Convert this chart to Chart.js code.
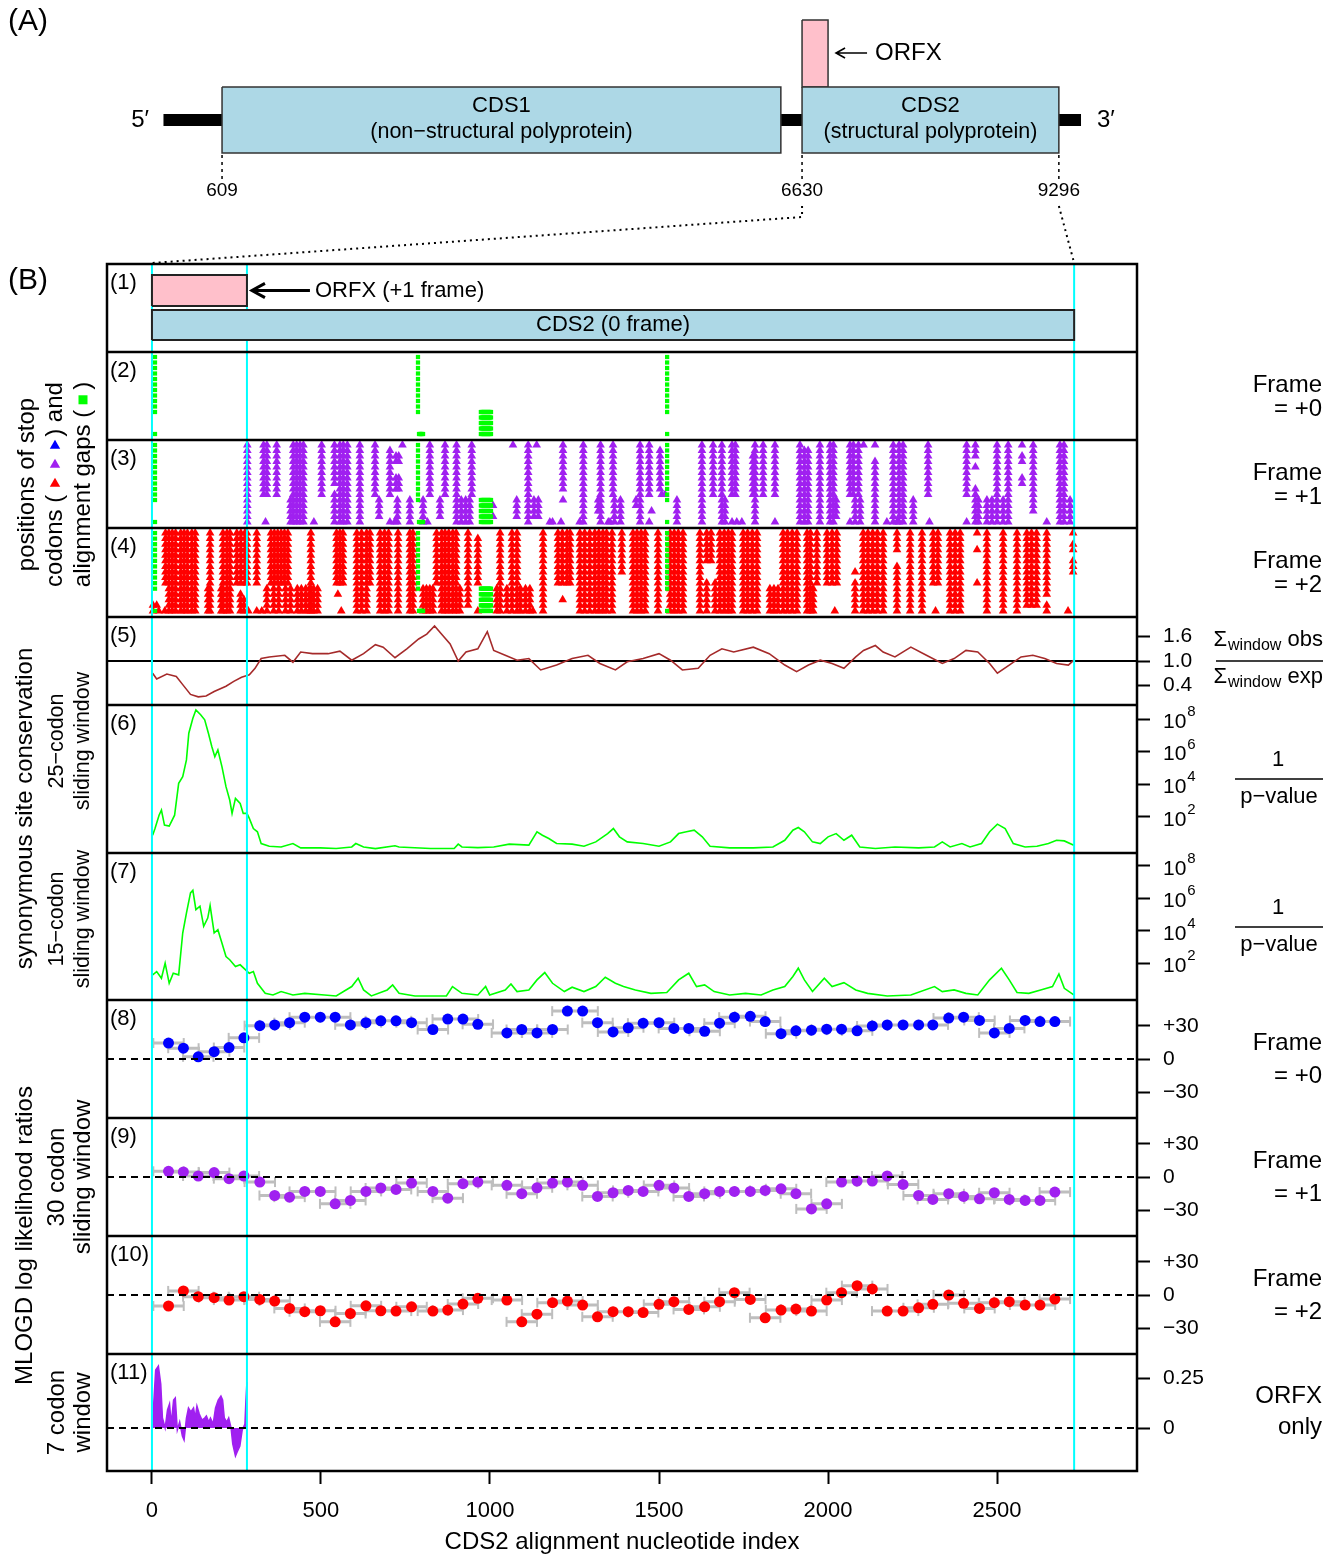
<!DOCTYPE html>
<html>
<head>
<meta charset="utf-8">
<title>ORFX in CDS2: stop codons, synonymous site conservation and MLOGD</title>
<script src="https://cdn.jsdelivr.net/npm/chart.js@4.4.1/dist/chart.umd.min.js"></script>
<style>
  html, body { margin: 0; padding: 0; background: #fff; }
  #figure { position: relative; width: 1336px; height: 1557px; }
  #figure canvas { position: absolute; left: 0; top: 0; }
</style>
</head>
<body>
<div id="figure">
  <canvas id="panelB" width="1336" height="1557"></canvas>
  <canvas id="panelA" width="1336" height="264"></canvas>
</div>
<script>
/* ==========================================================================
   DATA  (A) genome map, nucleotide coordinates
   ========================================================================== */
const GENOME_SPAN = [1, 9526];
const GENE_NAMES = ['CDS1', 'CDS2', 'ORFX'];
const GENE_NOTES = ['(non\u2212structural polyprotein)', '(structural polyprotein)', ''];
const GENE_STARTS = [609, 6630, 6630];
const GENE_ENDS = [6410, 9296, 6900];
const GENOME_TICKS = [609, 6630, 9296];

/* ==========================================================================
   DATA  (B) CDS2 alignment coordinates
   ========================================================================== */
const X_TICKS = [0, 500, 1000, 1500, 2000, 2500];
const ORFX_RANGE = [0, 281];
const CDS2_RANGE = [0, 2728];

// alignment gaps: [from nt, to nt, first sequence row, last sequence row]
const GAP_SEGMENTS = [
  [9, 9, 1, 11], [9, 9, 15, 15], [787, 787, 1, 11], [790, 802, 15, 15],
  [973, 1003, 11, 15], [1524, 1524, 1, 11], [1524, 1524, 15, 15]
];

// stop codons: [nt, first sequence row, last sequence row]
const FRAME1_STOPS = [
  [282,1,15],[330,1,10],[340,1,10],[336,15,15],[369,1,10],
  [410,11,15],[418,1,15],[428,1,15],[438,1,15],[448,1,15],[479,15,15],[502,1,10],
  [540,1,8],[540,10,15],[556,1,15],[566,1,15],[578,1,15],[615,1,15],[660,1,10],[672,11,14],
  [704,2,10],[704,15,15],[722,3,4],[730,3,4],[722,7,9],[730,7,9],[741,1,1],[726,11,15],[718,15,15],
  [763,11,15],[802,11,15],[815,15,15],[822,1,10],[852,11,14],[867,1,10],[901,1,15],
  [915,11,15],[928,11,15],[940,11,15],[946,1,10],[1009,12,12],[1009,14,14],
  [1068,1,1],[1079,11,14],[1113,1,15],[1138,1,1],[1130,11,14],[1143,11,14],
  [1177,15,15],[1185,15,15],[1216,1,9],[1216,11,11],[1210,15,15],[1265,15,15],[1276,1,15],
  [1327,1,15],[1320,11,13],[1350,15,15],[1364,1,10],[1368,11,15],[1386,11,15],[1355,15,15],
  [1432,11,12],[1444,1,15],[1471,1,10],[1471,15,15],[1478,13,13],
  [1503,2,9],[1508,10,10],[1518,10,10],[1553,11,15],[1627,1,15],[1660,1,10],
  [1686,1,15],[1695,11,15],[1716,1,10],[1726,1,10],[1716,15,15],[1730,15,15],[1745,15,15],
  [1784,1,15],[1778,3,10],[1808,1,10],[1843,1,10],[1843,15,15],
  [1917,1,15],[1930,2,15],[1941,2,15],[1976,1,15],[2006,1,15],[2016,1,15],[2024,11,14],
  [2065,1,10],[2075,1,10],[2090,1,10],[2105,1,1],[2065,15,15],[2080,11,15],[2095,11,15],
  [2139,1,1],[2139,4,15],[2174,15,15],[2193,1,15],[2210,1,15],[2222,1,15],[2204,15,15],
  [2252,11,15],[2296,1,10],[2300,15,15],[2410,1,10],[2410,15,15],
  [2436,1,3],[2436,5,5],[2436,9,15],[2445,11,15],[2470,11,15],[2485,11,15],[2500,1,15],
  [2533,1,15],[2518,11,15],[2574,1,1],[2574,3,4],[2574,7,8],[2607,1,13],[2647,15,15],
  [2686,1,15],[2698,1,15],[2716,11,15]
];
const FRAME2_STOPS = [
  [3,14,15],[14,14,14],[20,15,15],[38,15,15],
  [40,1,10],[50,1,15],[60,1,15],[70,1,15],[85,1,15],[95,1,15],[105,1,15],[118,1,15],[128,1,15],
  [172,1,15],[166,11,15],[210,1,15],[222,1,15],[231,1,15],[205,11,15],
  [251,1,10],[263,1,10],[275,1,10],[281,1,10],[262,12,15],[272,13,15],[285,15,15],
  [310,1,10],[310,15,15],[325,15,15],[340,11,15],
  [352,1,10],[362,1,10],[372,1,10],[382,1,10],[392,1,10],[402,1,10],[360,11,15],[375,11,15],[395,11,15],[410,11,15],
  [430,11,15],[442,11,15],[455,11,15],[466,11,15],[478,11,15],[490,11,15],[470,1,15],
  [546,1,10],[556,1,10],[565,1,10],[550,12,12],[560,15,15],
  [606,1,15],[620,1,15],[635,1,15],[645,1,10],[675,1,15],[688,1,15],[700,1,15],[728,1,15],
  [763,1,15],[772,1,15],[802,11,15],[812,11,15],[822,11,15],[831,11,15],[842,1,10],
  [857,1,15],[867,1,15],[878,1,15],[890,1,15],[900,1,15],[911,11,15],[935,1,14],
  [964,2,10],[964,15,15],[1030,1,15],[1020,11,15],
  [1050,11,15],[1065,1,15],[1080,1,15],[1090,11,15],[1105,11,15],[1118,11,15],[1127,15,15],
  [1157,1,15],[1201,1,10],[1214,1,10],[1228,1,10],[1237,1,10],[1215,13,13],
  [1266,1,15],[1280,1,15],[1295,1,15],[1310,1,15],[1322,1,15],[1334,1,15],[1345,1,15],[1361,1,15],
  [1390,1,8],[1423,1,15],[1435,1,15],[1447,1,15],[1459,1,15],[1497,1,15],
  [1533,1,15],[1545,1,15],[1557,1,15],[1571,1,15],[1621,1,15],
  [1641,1,6],[1641,10,15],[1654,1,6],[1666,10,15],
  [1680,1,15],[1693,1,15],[1705,1,15],[1716,1,15],[1749,1,15],[1762,1,15],[1776,1,15],[1790,1,15],
  [1828,11,15],[1840,11,15],[1852,11,15],[1867,1,15],[1880,1,15],[1894,1,15],[1908,1,15],
  [1938,1,15],[1948,1,15],[1956,11,15],[1967,1,10],[1997,1,10],[2012,1,10],[2026,1,10],[2020,15,15],
  [2080,8,8],[2080,10,15],[2104,1,15],[2118,1,15],[2132,1,15],[2146,1,15],[2163,1,15],
  [2204,1,4],[2204,7,15],[2243,1,15],[2278,1,15],[2311,1,10],[2325,1,10],[2318,15,15],
  [2361,1,15],[2376,1,15],[2391,1,15],[2441,1,1],[2441,4,4],[2441,10,10],
  [2470,1,15],[2518,1,15],[2559,1,15],[2588,1,14],[2602,1,14],[2617,1,14],
  [2647,1,12],[2647,14,15],[2710,15,15],[2725,1,1],[2725,3,4],[2725,6,8]
];

// (5) synonymous site conservation ratio, 25-codon window
const CONS_POS = [2,14,44,72,91,114,137,160,184,219,242,265,288,305,323,347,393,417,440,475,
  521,556,591,626,661,684,719,754,789,813,836,859,882,906,929,964,992,1011,1045,1080,
  1115,1150,1197,1243,1290,1325,1371,1406,1453,1500,1534,1569,1616,1651,1686,1721,1779,1826,1872,1907,
  1942,1977,2012,2047,2082,2105,2140,2163,2198,2245,2291,2338,2373,2408,2443,2478,2501,2536,2571,2606,
  2641,2676,2711,2727];
const CONS_RATIO = [0.70,0.56,0.68,0.62,0.42,0.18,0.12,0.14,0.25,0.38,0.50,0.60,0.66,0.82,1.06,1.10,1.14,0.97,1.22,1.18,
  1.18,1.24,1.02,1.18,1.40,1.34,1.08,1.30,1.54,1.66,1.86,1.64,1.42,1.00,1.22,1.30,1.72,1.26,1.14,1.02,
  1.06,0.78,0.90,1.06,1.14,0.94,0.78,0.98,1.06,1.18,1.02,0.78,0.82,1.14,1.30,1.22,1.34,1.18,0.90,0.74,
  0.90,1.02,0.94,0.82,1.10,1.26,1.38,1.22,1.10,1.34,1.14,0.94,1.06,1.26,1.22,0.94,0.70,0.90,1.10,1.14,
  1.06,0.94,0.90,1.02];

// (6) 1/p-value, 25-codon window (log10)
const SYN25_POS = [2,9,21,28,37,51,67,79,91,102,109,121,130,144,156,167,177,186,195,207,
  219,230,237,247,261,270,281,288,300,312,323,347,382,417,440,498,545,591,603,626,
  661,719,731,824,894,906,917,964,1011,1057,1115,1139,1155,1174,1197,1243,1278,1313,1348,1365,
  1383,1406,1453,1500,1534,1558,1581,1604,1628,1651,1709,1779,1837,1872,1896,1912,1930,1954,1977,2000,
  2024,2047,2070,2094,2140,2198,2268,2315,2338,2361,2396,2420,2454,2478,2501,2524,2548,2583,2618,2652,
  2676,2699,2727];
const SYN25_LOG10 = [0.87,1.28,2.10,2.41,1.49,1.43,2.10,4.05,4.46,5.49,7.13,8.05,8.56,8.26,7.95,7.13,6.31,5.69,6.10,5.08,
  3.85,3.03,2.21,3.13,2.82,2.21,2.21,1.90,1.28,1.08,0.36,0.19,0.15,0.36,0.09,0.09,0.05,0.15,0.36,0.15,
  0.05,0.22,0.15,0.05,0.05,0.32,0.15,0.11,0.15,0.32,0.26,1.08,0.87,0.67,0.36,0.32,0.19,0.46,0.97,1.28,
  0.77,0.46,0.36,0.19,0.46,0.97,1.08,1.18,0.77,0.19,0.09,0.09,0.15,0.56,1.18,1.34,1.08,0.46,0.36,0.77,
  0.97,0.56,0.87,0.15,0.05,0.15,0.09,0.15,0.46,0.15,0.36,0.15,0.36,1.08,1.55,1.28,0.36,0.15,0.19,0.36,
  0.56,0.52,0.26];

// (7) 1/p-value, 15-codon window (log10)
const SYN15_POS = [2,14,28,39,51,63,79,91,102,114,121,130,142,153,165,172,184,195,207,219,
  230,247,261,277,288,300,312,335,358,382,417,452,510,545,591,610,626,649,696,712,
  731,778,871,889,917,964,987,999,1045,1062,1080,1115,1139,1162,1185,1220,1243,1278,1313,1341,
  1371,1395,1430,1476,1523,1558,1588,1611,1635,1663,1709,1756,1802,1837,1872,1896,1912,1930,1954,1989,
  2012,2047,2082,2117,2175,2245,2315,2338,2373,2408,2443,2478,2513,2536,2559,2594,2629,2664,2683,2699,
  2727];
const SYN15_LOG10 = [1.28,1.48,1.07,2.00,0.76,1.38,1.28,3.86,5.09,6.33,6.49,5.30,5.51,4.27,4.78,5.55,3.86,4.06,3.24,2.41,
  2.21,1.79,1.90,1.59,1.38,1.48,0.76,0.14,0.04,0.25,0.04,0.14,0.04,-0.02,0.56,1.07,0.35,-0.02,0.35,0.66,
  0.14,-0.02,-0.02,0.56,0.14,0.04,0.56,0.04,0.35,0.72,0.25,0.35,0.97,1.42,0.76,0.25,0.52,0.25,0.56,1.13,
  0.76,0.56,0.35,0.14,0.19,0.97,1.38,0.56,0.66,0.25,0.04,0.14,0.04,0.35,0.56,1.18,1.69,0.97,0.25,1.07,
  0.56,0.80,0.35,0.14,-0.02,0.04,0.56,0.25,0.35,0.14,0.04,0.97,1.69,0.97,0.19,0.14,0.35,0.56,1.34,0.45,
  0.04];

// (8)-(10) MLOGD, 30-codon windows
const WIN30_POS = [49,93,137,184,228,272,319,363,407,452,498,542,587,633,677,722,768,831,875,920,
  964,1050,1094,1139,1185,1229,1274,1318,1364,1409,1453,1500,1544,1588,1635,1679,1723,1770,1814,1861,
  1905,1951,1996,2040,2086,2131,2175,2222,2268,2310,2357,2401,2448,2492,2536,2583,2627,2671];
const WIN30_HALF = 45;
const MLOGD_F0 = [14.5,9.8,2.0,6.6,10.4,19.2,30.3,31,33,38,38,38,31,33,34.7,34.7,33,26.8,36.3,36.3,
  31.5,23.7,26.8,23.7,26.8,43.5,43.5,33,24.6,28.4,32.5,33,27.8,27.8,25.2,32.5,38,38.8,34,23,
  25.6,26.2,27.1,27.1,25.6,30,31,31,31,31,37.2,38,35,23.7,27.8,35,34,34];
const MLOGD_F1 = [5.2,4.6,0.9,4,-1.5,0.9,-4.6,-16.8,-18.3,-13.1,-13.1,-24.4,-21.3,-13.1,-10,-11.3,-5.5,-13.1,-19.2,-6.1,
  -4.6,-7.6,-15.2,-9.8,-5.5,-4.6,-7.6,-17.7,-14.3,-12.2,-13.1,-7.6,-10,-17.7,-15.2,-13.1,-13.1,-13.1,-12.2,-10.7,
  -15.2,-29,-24.4,-4.6,-3.7,-3.7,0.9,-6.7,-16.8,-20.4,-15.2,-17.7,-19.8,-14.3,-20.4,-21.3,-21.3,-13.7];
const MLOGD_F2 = [-10,3.7,-1.5,-2.4,-4.6,-1.5,-4,-5.5,-12.2,-15.2,-14.3,-24.4,-16.8,-9.8,-14.3,-14.6,-10.7,-14.6,-13.7,-8.2,
  -3,-4.6,-24.4,-17.4,-7,-5.5,-9.1,-19.8,-15.2,-15.2,-15.9,-8.5,-6.1,-13.1,-10.7,-6.1,2.1,-4,-20.7,-13.7,
  -12.8,-14.6,-4.6,2.1,8.5,5.5,-14.6,-14.6,-11.6,-8.5,0,-7.6,-12.2,-7,-6.1,-9.1,-9.1,-3.7];

// (11) MLOGD, 7-codon window, ORFX only
const ORFX7_POS = [1,11,19,26,31,39,46,52,57,64,69,75,82,90,95,102,108,115,123,128,
  133,140,148,156,161,168,173,181,188,196,204,209,214,221,227,234,239,247,252,260,267,275,278,281];
const ORFX7_VAL = [0,0.29,0.31,0.22,0.05,0.00,0.09,0.12,0.02,0.14,0.15,-0.01,0.03,-0.04,-0.06,0.05,0.10,0.08,0.10,0.05,
  0.11,0.07,0.04,0.05,0.06,0.03,0.05,0.02,0.10,0.14,0.16,0.14,0.05,0.03,0.05,0.00,-0.08,-0.14,-0.12,-0.09,-0.01,0.02,0.14,0.23];

// axis ticks of the right-hand scales
const RATIO_TICKS = [0.4, 1.0, 1.6];
const RATIO_TICK_LABELS = ['0.4', '1.0', '1.6'];
const PVAL_TICK_EXP = [2, 4, 6, 8];
const MLOGD_TICKS = [-30, 0, 30];
const MLOGD_TICK_LABELS = ['\u221230', '0', '+30'];
const ORFX7_TICKS = [0, 0.25];
const ORFX7_TICK_LABELS = ['0', '0.25'];

/* ==========================================================================
   STYLE / LAYOUT
   ========================================================================== */
const FONT = "'Liberation Sans', Arial, Helvetica, sans-serif";
const CYAN = '#00FFFF', PURPLE = '#A020F0', RED = '#FF0000', BLUE = '#0000FF';
const GREEN = '#00FF00', BROWN = '#A52A2A', GREY = '#BEBEBE';
const LIGHTBLUE = '#ADD8E6', PINK = '#FFC0CB';
const PANEL_IDS = ['p1', 'p2', 'p3', 'p4', 'p5', 'p6', 'p7', 'p8', 'p9', 'p10', 'p11'];
const PANEL_WEIGHTS = [88, 88, 88, 89, 88, 148, 147, 118, 118, 118, 117];

Chart.defaults.font.family = FONT;
Chart.defaults.color = '#000';

const pts = (xs, ys) => xs.map((x, i) => ({ x, y: ys[i] }));

function expandColumns(cols) {
  const out = [];
  cols.forEach(([nt, r1, r2]) => { for (let r = r1; r <= r2; r++) out.push({ x: nt, y: r }); });
  return out;
}
function expandGaps(segs) {
  const out = [];
  segs.forEach(([a, b, r1, r2]) => {
    for (let nt = a; nt <= b; nt += 3) for (let r = r1; r <= r2; r++) out.push({ x: nt, y: r });
  });
  return out;
}
function rectDataset(x0, x1, y0, y1, yAxisID, fill, order) {
  return {
    type: 'scatter', showLine: true, yAxisID, order,
    data: [{ x: x0, y: y0 }, { x: x0, y: y1 }, { x: x1, y: y1 }, { x: x1, y: y0 }, { x: x0, y: y0 }],
    borderColor: '#222', borderWidth: 2, borderJoinStyle: 'miter', backgroundColor: fill,
    fill: 'shape', pointRadius: 0, tension: 0
  };
}
function errorBarSets(pos, vals, yAxisID, color) {
  const bars = [], caps = [];
  pos.forEach((p, i) => {
    bars.push({ x: p - WIN30_HALF, y: vals[i] }, { x: p + WIN30_HALF, y: vals[i] }, { x: p + WIN30_HALF, y: null });
    caps.push({ x: p - WIN30_HALF, y: vals[i] }, { x: p + WIN30_HALF, y: vals[i] });
  });
  return [
    { type: 'scatter', yAxisID, data: pts(pos, vals), pointRadius: 5.5, pointBorderWidth: 0,
      backgroundColor: color, borderColor: color, order: 1 },
    { type: 'scatter', showLine: true, spanGaps: false, yAxisID, data: bars, borderColor: GREY,
      borderWidth: 3, pointRadius: 0, order: 3 },
    { type: 'scatter', yAxisID, data: caps, pointStyle: 'line', rotation: 90, pointRadius: 5,
      pointBorderWidth: 2, borderColor: GREY, order: 2 }
  ];
}
function panelScale(weight, o) {
  const hasTicks = !!o.tickValues;
  return {
    type: o.type || 'linear', position: 'right', stack: 'panels', stackWeight: weight,
    min: o.min, max: o.max, reverse: !!o.reverse,
    border: { display: false },
    grid: { display: hasTicks, drawOnChartArea: false, tickLength: 13, tickWidth: 2, tickColor: '#000' },
    ticks: {
      display: hasTicks && !o.ownLabels, color: '#000', font: { size: 21 }, padding: 13, autoSkip: false,
      callback: (v, i) => (o.tickLabels ? o.tickLabels[i] : String(v))
    },
    afterBuildTicks: s => { s.ticks = (o.tickValues || []).map(v => ({ value: v })); },
    afterFit: s => { s.width = 199; }
  };
}

/* ==========================================================================
   DRAW HELPERS
   ========================================================================== */
function txt(ctx, s, x, y, size, align) {
  ctx.font = size + 'px ' + FONT;
  ctx.textAlign = align || 'left';
  ctx.textBaseline = 'middle';
  ctx.fillStyle = '#000';
  ctx.fillText(s, x, y);
}
function seg(ctx, x0, y0, x1, y1) {
  ctx.beginPath(); ctx.moveTo(x0, y0); ctx.lineTo(x1, y1); ctx.stroke();
}
function arrowLeft(ctx, xTail, xHead, y, lw, hl) {
  ctx.lineWidth = lw; ctx.strokeStyle = '#000'; ctx.lineCap = 'butt';
  ctx.beginPath();
  ctx.moveTo(xTail, y); ctx.lineTo(xHead, y);
  ctx.moveTo(xHead + hl, y - hl * 0.55); ctx.lineTo(xHead, y); ctx.lineTo(xHead + hl, y + hl * 0.55);
  ctx.stroke();
}
function vtext(ctx, s, x, y, size) {
  ctx.save(); ctx.translate(x, y); ctx.rotate(-Math.PI / 2);
  txt(ctx, s, 0, 0, size, 'center');
  ctx.restore();
}
// rotated text with a blank slot for markers; returns page y of slot start / end
function vtextSlot(ctx, pre, slot, post, x, y, size) {
  ctx.font = size + 'px ' + FONT;
  const w1 = ctx.measureText(pre).width, w2 = ctx.measureText(post).width;
  const u0 = -(w1 + slot + w2) / 2;
  ctx.save(); ctx.translate(x, y); ctx.rotate(-Math.PI / 2);
  txt(ctx, pre, u0, 0, size, 'left');
  txt(ctx, post, u0 + w1 + slot, 0, size, 'left');
  ctx.restore();
  return [y - (u0 + w1), y - (u0 + w1 + slot)];
}
function triUp(ctx, cx, cy, r, color) {
  ctx.fillStyle = color;
  ctx.beginPath();
  ctx.moveTo(cx, cy - r); ctx.lineTo(cx + r * 0.866, cy + r * 0.5); ctx.lineTo(cx - r * 0.866, cy + r * 0.5);
  ctx.closePath(); ctx.fill();
}
function sigmaLabel(ctx, word, xr, y) {
  ctx.font = '22px ' + FONT; const wS = ctx.measureText('\u03a3').width;
  ctx.font = '16px ' + FONT; const wW = ctx.measureText('window').width;
  ctx.font = '22px ' + FONT; const wO = ctx.measureText(' ' + word).width;
  const x0 = xr - (wS + wW + wO);
  txt(ctx, '\u03a3', x0, y, 22);
  txt(ctx, 'window', x0 + wS + 1, y + 6, 16);
  txt(ctx, ' ' + word, x0 + wS + wW + 1, y, 22);
}

/* ==========================================================================
   PANEL B DECORATION
   ========================================================================== */
const CYAN_AT = [ORFX_RANGE[0], ORFX_RANGE[1], CDS2_RANGE[1]];

const panelDecor = {
  id: 'panelDecor',
  beforeDatasetsDraw(chart) {
    const { ctx, chartArea: a, scales: s } = chart;
    ctx.save();
    ctx.strokeStyle = '#000'; ctx.lineWidth = 1.8;
    const y1 = s.p5.getPixelForValue(1);
    seg(ctx, a.left, y1, a.right, y1);
    ctx.strokeStyle = CYAN; ctx.lineWidth = 2;
    CYAN_AT.forEach(v => { const px = s.x.getPixelForValue(v); seg(ctx, px, s.p1.top, px, s.p1.bottom); });
    ctx.restore();
  },
  afterDatasetsDraw(chart) {
    const { ctx, chartArea: a, scales: s } = chart;
    ctx.save();
    // zero reference lines
    ctx.strokeStyle = '#000'; ctx.lineWidth = 2; ctx.setLineDash([7, 5]);
    ['p8', 'p9', 'p10', 'p11'].forEach(id => {
      const y = s[id].getPixelForValue(0);
      seg(ctx, a.left, y, a.right, y);
    });
    ctx.setLineDash([]);
    // ORFX / CDS2 boundaries
    ctx.strokeStyle = CYAN; ctx.lineWidth = 2;
    CYAN_AT.forEach(v => { const px = s.x.getPixelForValue(v); seg(ctx, px, s.p2.top, px, s.p11.bottom); });
    // panel frames
    ctx.strokeStyle = '#000'; ctx.lineWidth = 2.5;
    ctx.strokeRect(a.left, a.top, a.right - a.left, a.bottom - a.top);
    PANEL_IDS.slice(1).forEach(id => seg(ctx, a.left, s[id].top, a.right, s[id].top));
    ctx.restore();
  },
  afterDraw(chart) {
    const { ctx, scales: s } = chart;
    const x = s.x;
    ctx.save();
    txt(ctx, '(B)', 8, 281, 30);
    PANEL_IDS.forEach((id, i) => txt(ctx, '(' + (i + 1) + ')', 110, s[id].top + 19, 22));

    // panel (1) labels
    const yOrf = s.p1.getPixelForValue(0.699);
    const xOrfEnd = x.getPixelForValue(ORFX_RANGE[1]);
    arrowLeft(ctx, xOrfEnd + 63, xOrfEnd + 5, yOrf, 3, 13);
    txt(ctx, 'ORFX (+1 frame)', xOrfEnd + 68, yOrf, 22);
    txt(ctx, 'CDS2 (0 frame)', x.getPixelForValue((CDS2_RANGE[0] + CDS2_RANGE[1]) / 2), s.p1.getPixelForValue(0.307), 22, 'center');

    // log tick labels 10^n
    ['p6', 'p7'].forEach(id => {
      PVAL_TICK_EXP.forEach(e => {
        const y = s[id].getPixelForValue(Math.pow(10, e));
        txt(ctx, '10', 1163, y + 3, 21);
        ctx.font = '21px ' + FONT;
        const w = ctx.measureText('10').width;
        txt(ctx, String(e), 1163 + w + 1, y - 7, 15);
      });
    });

    // right-hand labels
    const XR = 1322;
    [['p2', '= +0'], ['p3', '= +1'], ['p4', '= +2']].forEach(([id, t]) => {
      txt(ctx, 'Frame', XR, s[id].top + 33, 24, 'right');
      txt(ctx, t, XR, s[id].top + 57, 24, 'right');
    });
    [['p8', '= +0'], ['p9', '= +1'], ['p10', '= +2']].forEach(([id, t]) => {
      txt(ctx, 'Frame', XR, s[id].top + 43, 24, 'right');
      txt(ctx, t, XR, s[id].top + 76, 24, 'right');
    });
    txt(ctx, 'ORFX', XR, s.p11.top + 42, 24, 'right');
    txt(ctx, 'only', XR, s.p11.top + 73, 24, 'right');
    // ratio label
    const t5 = s.p5.top;
    sigmaLabel(ctx, 'obs', XR, t5 + 23);
    ctx.strokeStyle = '#000'; ctx.lineWidth = 1.5;
    seg(ctx, 1216, t5 + 44, 1323, t5 + 44);
    sigmaLabel(ctx, 'exp', XR, t5 + 60);
    // 1 / p-value labels
    ['p6', 'p7'].forEach(id => {
      const t = s[id].top;
      txt(ctx, '1', 1278, t + 55, 22, 'center');
      seg(ctx, 1235, t + 74, 1323, t + 74);
      txt(ctx, 'p\u2212value', 1279, t + 92, 22, 'center');
    });

    // left-hand labels
    const FS = 24, FS2 = 21.5;
    const c24 = (s.p2.top + s.p4.bottom) / 2;
    vtext(ctx, 'positions of stop', 27, c24, FS);
    const [a1] = vtextSlot(ctx, 'codons (', 58, ') and', 55, c24, FS);
    triUp(ctx, 55, a1 - 11, 6, RED);
    triUp(ctx, 55, a1 - 30, 6, PURPLE);
    triUp(ctx, 55, a1 - 49, 6, BLUE);
    const [a2, b2] = vtextSlot(ctx, 'alignment gaps (', 20, ')', 83, c24, FS);
    ctx.fillStyle = GREEN;
    ctx.fillRect(83 - 4.5, (a2 + b2) / 2 - 4.5, 9, 9);

    vtext(ctx, 'synonymous site conservation', 25, (s.p5.top + s.p7.bottom) / 2, FS);
    const c6 = s.p6.top + 36, c7 = s.p7.top + 66;
    vtext(ctx, '25\u2212codon', 57, c6, FS2); vtext(ctx, 'sliding window', 83, c6, FS2);
    vtext(ctx, '15\u2212codon', 57, c7, FS2); vtext(ctx, 'sliding window', 83, c7, FS2);

    vtext(ctx, 'MLOGD log likelihood ratios', 25, (s.p8.top + s.p11.bottom) / 2, FS);
    const c810 = (s.p8.top + s.p10.bottom) / 2, c11 = (s.p11.top + s.p11.bottom) / 2;
    vtext(ctx, '30 codon', 57, c810, FS); vtext(ctx, 'sliding window', 83, c810, FS);
    vtext(ctx, '7 codon', 57, c11, FS); vtext(ctx, 'window', 83, c11, FS);
    ctx.restore();
  }
};

/* ==========================================================================
   PANEL B CHART
   ========================================================================== */
const gapPts = expandGaps(GAP_SEGMENTS);
const datasetsB = [
  rectDataset(ORFX_RANGE[0], ORFX_RANGE[1], 0.523, 0.875, 'p1', PINK, 5),
  rectDataset(CDS2_RANGE[0], CDS2_RANGE[1], 0.136, 0.477, 'p1', LIGHTBLUE, 5)
];
['p2', 'p3', 'p4'].forEach(id => {
  datasetsB.push({ type: 'scatter', yAxisID: id, data: gapPts.map(p => ({ ...p })), pointStyle: 'rect',
    pointRadius: 3, pointBorderWidth: 0, backgroundColor: GREEN, borderColor: GREEN, order: 0 });
});
datasetsB.push({ type: 'scatter', yAxisID: 'p3', data: expandColumns(FRAME1_STOPS), pointStyle: 'triangle',
  pointRadius: 5, pointBorderWidth: 0, backgroundColor: PURPLE, borderColor: PURPLE, order: 1 });
datasetsB.push({ type: 'scatter', yAxisID: 'p4', data: expandColumns(FRAME2_STOPS), pointStyle: 'triangle',
  pointRadius: 5, pointBorderWidth: 0, backgroundColor: RED, borderColor: RED, order: 1 });
datasetsB.push({ type: 'line', yAxisID: 'p5', data: pts(CONS_POS, CONS_RATIO), borderColor: BROWN,
  borderWidth: 1.6, pointRadius: 0, tension: 0, order: 1 });
datasetsB.push({ type: 'line', yAxisID: 'p6', data: pts(SYN25_POS, SYN25_LOG10.map(e => Math.pow(10, e))),
  borderColor: GREEN, borderWidth: 1.6, pointRadius: 0, tension: 0, order: 1 });
datasetsB.push({ type: 'line', yAxisID: 'p7', data: pts(SYN15_POS, SYN15_LOG10.map(e => Math.pow(10, e))),
  borderColor: GREEN, borderWidth: 1.6, pointRadius: 0, tension: 0, order: 1 });
datasetsB.push(...errorBarSets(WIN30_POS, MLOGD_F0, 'p8', BLUE));
datasetsB.push(...errorBarSets(WIN30_POS, MLOGD_F1, 'p9', PURPLE));
datasetsB.push(...errorBarSets(WIN30_POS, MLOGD_F2, 'p10', RED));
datasetsB.push({ type: 'line', yAxisID: 'p11', data: pts(ORFX7_POS, ORFX7_VAL), borderColor: PURPLE,
  backgroundColor: PURPLE, borderWidth: 1.5, fill: { value: 0 }, pointRadius: 0, tension: 0, order: 1 });

const rowScale = { min: 0.09, max: 16.09, reverse: true };
const chartB = new Chart(document.getElementById('panelB'), {
  type: 'scatter',
  data: { datasets: datasetsB },
  options: {
    responsive: false, animation: false, events: [], devicePixelRatio: 1,
    layout: { padding: { top: 264, left: 107, right: 0, bottom: 0 } },
    plugins: { legend: { display: false }, tooltip: { enabled: false } },
    scales: {
      x: {
        type: 'linear', position: 'bottom', min: -133, max: 2914,
        border: { display: false },
        grid: { drawOnChartArea: false, tickLength: 13, tickWidth: 2, tickColor: '#000' },
        ticks: { color: '#000', font: { size: 22 }, padding: 14, autoSkip: false, maxRotation: 0, callback: v => String(v) },
        afterBuildTicks: s => { s.ticks = X_TICKS.map(v => ({ value: v })); },
        title: { display: true, text: 'CDS2 alignment nucleotide index', color: '#000', font: { size: 24 }, padding: { top: 0, bottom: 0 } },
        afterFit: s => { s.height = 86; }
      },
      p1: panelScale(PANEL_WEIGHTS[0], { min: 0, max: 1 }),
      p2: panelScale(PANEL_WEIGHTS[1], rowScale),
      p3: panelScale(PANEL_WEIGHTS[2], rowScale),
      p4: panelScale(PANEL_WEIGHTS[3], rowScale),
      p5: panelScale(PANEL_WEIGHTS[4], { min: -0.08, max: 2.08, tickValues: RATIO_TICKS, tickLabels: RATIO_TICK_LABELS }),
      p6: panelScale(PANEL_WEIGHTS[5], { type: 'logarithmic', min: Math.pow(10, -0.21), max: Math.pow(10, 8.86),
        tickValues: PVAL_TICK_EXP.map(e => Math.pow(10, e)), ownLabels: true }),
      p7: panelScale(PANEL_WEIGHTS[6], { type: 'logarithmic', min: Math.pow(10, -0.27), max: Math.pow(10, 8.79),
        tickValues: PVAL_TICK_EXP.map(e => Math.pow(10, e)), ownLabels: true }),
      p8: panelScale(PANEL_WEIGHTS[7], { min: -53.6, max: 53.6, tickValues: MLOGD_TICKS, tickLabels: MLOGD_TICK_LABELS }),
      p9: panelScale(PANEL_WEIGHTS[8], { min: -53.6, max: 53.6, tickValues: MLOGD_TICKS, tickLabels: MLOGD_TICK_LABELS }),
      p10: panelScale(PANEL_WEIGHTS[9], { min: -53.6, max: 53.6, tickValues: MLOGD_TICKS, tickLabels: MLOGD_TICK_LABELS }),
      p11: panelScale(PANEL_WEIGHTS[10], { min: -0.215, max: 0.37, tickValues: ORFX7_TICKS, tickLabels: ORFX7_TICK_LABELS })
    }
  },
  plugins: [panelDecor]
});

/* ==========================================================================
   PANEL A: GENOME MAP
   ========================================================================== */
const mapDecor = {
  id: 'mapDecor',
  afterDatasetsDraw(chart) {
    const { ctx, scales: { x } } = chart;
    ctx.save();
    txt(ctx, '(A)', 8, 22, 30);
    GENE_NAMES.forEach((name, i) => {
      if (!GENE_NOTES[i]) return;
      const cx = (x.getPixelForValue(GENE_STARTS[i]) + x.getPixelForValue(GENE_ENDS[i])) / 2;
      txt(ctx, name, cx, 106, 22, 'center');
      txt(ctx, GENE_NOTES[i], cx, 132, 21.5, 'center');
    });
    const ox = x.getPixelForValue(GENE_ENDS[2]) + 8;
    arrowLeft(ctx, ox + 31, ox, 53, 1.6, 9);
    txt(ctx, 'ORFX', ox + 39, 53, 24);
    txt(ctx, '5\u2032', 149, 120, 24, 'right');
    txt(ctx, '3\u2032', 1097, 120, 24, 'left');

    ctx.strokeStyle = '#000'; ctx.lineWidth = 1.5; ctx.setLineDash([3, 4]);
    GENOME_TICKS.forEach(v => { const px = x.getPixelForValue(v); seg(ctx, px, 155, px, 181); });
    ctx.setLineDash([]);
    GENOME_TICKS.forEach(v => txt(ctx, String(v), x.getPixelForValue(v), 191, 19, 'center'));

    // guides into panel B
    const bx = chartB.scales.x;
    ctx.lineWidth = 2; ctx.setLineDash([2, 4]);
    const gx0 = x.getPixelForValue(GENE_STARTS[1]), gx1 = x.getPixelForValue(GENE_ENDS[1]);
    ctx.beginPath();
    ctx.moveTo(gx0, 206); ctx.lineTo(gx0, 217); ctx.lineTo(bx.getPixelForValue(CDS2_RANGE[0]), 263);
    ctx.moveTo(gx1, 206); ctx.lineTo(bx.getPixelForValue(CDS2_RANGE[1]), 263);
    ctx.stroke();
    ctx.restore();
  }
};

const trackOf = name => (name === 'ORFX' ? [20, 87] : [87, 153]);
const geneFill = name => (name === 'ORFX' ? PINK : LIGHTBLUE);
const chartA = new Chart(document.getElementById('panelA'), {
  type: 'scatter',
  data: {
    datasets: [
      { showLine: true, data: [{ x: GENOME_SPAN[0], y: 120 }, { x: GENOME_SPAN[1], y: 120 }],
        borderColor: '#000', borderWidth: 12, borderCapStyle: 'butt', pointRadius: 0, order: 3 },
      ...GENE_NAMES.map((name, i) => {
        const d = rectDataset(GENE_STARTS[i], GENE_ENDS[i], trackOf(name)[0], trackOf(name)[1], 'y', geneFill(name), 1);
        d.borderWidth = 1.5; d.borderColor = '#333';
        return d;
      })
    ]
  },
  options: {
    responsive: false, animation: false, events: [], devicePixelRatio: 1,
    layout: { padding: 0 },
    plugins: { legend: { display: false }, tooltip: { enabled: false } },
    scales: {
      x: { type: 'linear', display: false, min: -1696, max: 12173 },
      y: { type: 'linear', display: false, min: 0, max: 264, reverse: true }
    }
  },
  plugins: [mapDecor]
});
</script>
</body>
</html>
